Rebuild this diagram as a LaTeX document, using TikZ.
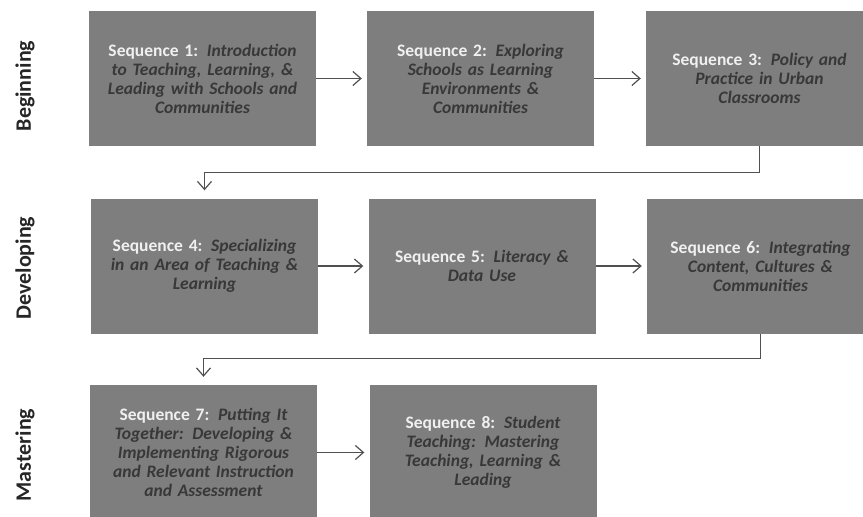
\documentclass[tikz,border=0pt]{standalone}
\usepackage{fontspec}
\setmainfont{Carlito}
\usetikzlibrary{arrows.meta}
\definecolor{boxgray}{RGB}{126,126,126}
\definecolor{titlegray}{RGB}{56,56,56}
\definecolor{seqwhite}{RGB}{240,240,240}
\definecolor{linegray}{RGB}{80,80,80}
\newcommand{\seqtext}[2]{{\color{seqwhite}Sequence #1:} \textit{#2}}

\begin{document}
\begin{tikzpicture}[x=1pt,y=-1pt,
    seqbox/.style={fill=boxgray,minimum width=227pt,minimum height=135pt,inner sep=0pt,
      text width=225pt,align=center,text=titlegray,font=\bfseries\fontsize{17.5}{19}\selectfont},
    stage/.style={rotate=90,text=black!85,font=\bfseries\fontsize{22}{24}\selectfont},
    flow/.style={-{Straight Barb[length=8pt,width=14pt,line width=1.2pt]},draw=linegray,line width=1.2pt,shorten >=5pt}]
    \useasboundingbox (0,0) rectangle (863,517);
    \clip (0,0) rectangle (863,517);
    \node[stage] (beg) at (25,86) {Beginning};
    \node[stage] (dev) at (25,268) {Developing};
    \node[stage] (mas) at (25,455) {Mastering};
    \node[seqbox] (s1) at (202.5,78.5) {\seqtext{1}{Introduction\\ to Teaching, Learning, \&\\ Leading with Schools and\\ Communities}};
    \node[seqbox] (s2) at (480.5,78.5) {\seqtext{2}{Exploring\\ Schools as Learning\\ Environments \&\\ Communities}};
    \node[seqbox] (s3) at (759.5,78.5) {\seqtext{3}{Policy and\\ Practice in Urban\\ Classrooms}};
    \node[seqbox] (s4) at (204.5,266) {\seqtext{4}{Specializing\\ in an Area of Teaching \&\\ Learning}};
    \node[seqbox] (s5) at (482,266) {\seqtext{5}{Literacy \&\\ Data Use}};
    \node[seqbox] (s6) at (760.5,266) {\seqtext{6}{Integrating\\ Content, Cultures \&\\ Communities}};
    \node[seqbox] (s7) at (203.5,452.5) {\seqtext{7}{Putting It\\ Together: Developing \&\\ Implementing Rigorous\\ and Relevant Instruction\\ and Assessment}};
    \node[seqbox] (s8) at (483,452.5) {\seqtext{8}{Student\\ Teaching: Mastering\\ Teaching, Learning \&\\ Leading}};
    \draw[flow] (s1) -- (s2);
    \draw[flow] (s2) -- (s3);
    \draw[flow,shorten >=8pt] (s3.south) -- ++(0,26) -| (s4.north);
    \draw[flow] (s4) -- (s5);
    \draw[flow] (s5) -- (s6);
    \draw[flow,shorten >=8pt] (s6.south) -- ++(0,25) -| (s7.north);
    \draw[flow] (s7) -- (s8);
  \end{tikzpicture}
\end{document}
